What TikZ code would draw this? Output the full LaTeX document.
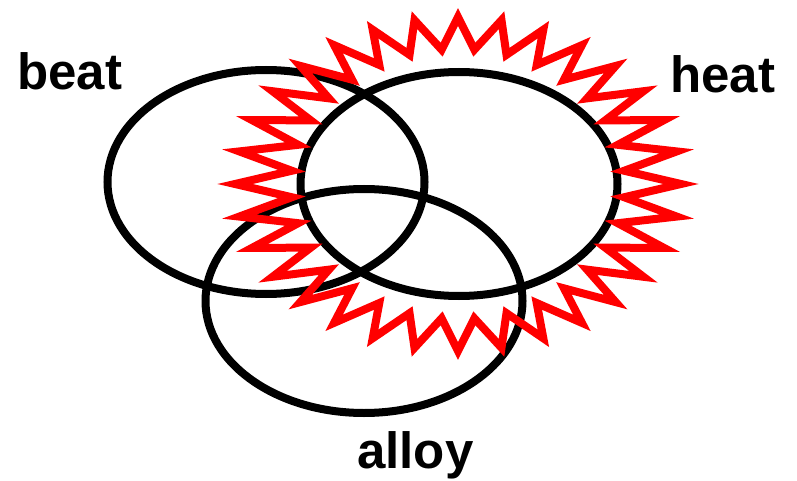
\documentclass[tikz,border=0pt]{standalone}
\usepackage{fontspec}
\setmainfont{Liberation Sans}
\usetikzlibrary{shapes.geometric}
\begin{document}
\begin{tikzpicture}[x=1pt,y=-1pt,
  ring/.style={draw=black,line width=8pt,ellipse,minimum width=317pt,minimum height=224pt,inner sep=0pt,outer sep=0pt},
  lbl/.style={anchor=base west,inner sep=0pt,font=\fontsize{51}{60}\selectfont\bfseries},
  burst/.style={draw=red,line width=8pt,line join=miter,miter limit=20}]
\useasboundingbox (0,0) rectangle (797,481);
% ellipses
\node[ring] (beatE) at (266,182) {};
\node[ring] (heatE) at (459,184) {};
\node[ring] (alloyE) at (364,301) {};
% red starburst around heat (drawn on top)
\draw[burst] (458,{184-167})
  \foreach \k in {1,...,63} { -- ({458+(223-56*mod(\k,2))*cos(90+\k*5.625)},{184-(167-32*mod(\k,2))*sin(90+\k*5.625)}) } -- cycle;
% labels
\node[lbl] (beat) at (17,90) {beat};
\node[lbl] (heat) at (670,93) {heat};
\node[lbl] (alloy) at (357,468) {alloy};
\end{tikzpicture}
\end{document}
